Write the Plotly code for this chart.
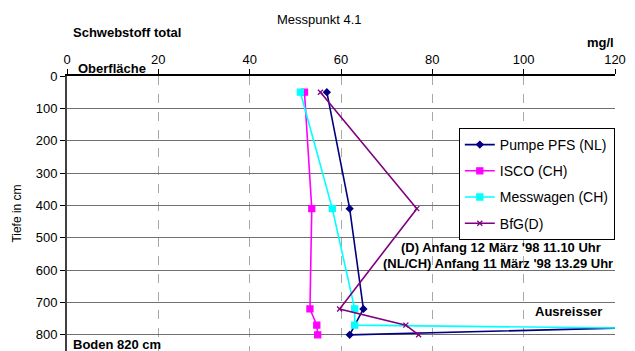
import plotly.graph_objects as go

# Data (mg/l vs depth in cm)
depth_pfs = [50, 410, 720, 800, 779]
val_pfs = [56.9, 61.9, 64.9, 61.9, 121]
depth_isco = [50, 410, 720, 770, 800]
val_isco = [52.0, 53.6, 53.2, 54.7, 54.9]
depth_mw = [50, 410, 720, 770, 779]
val_mw = [51.1, 58.1, 63.0, 63.0, 121]
depth_bfg = [50, 410, 720, 770, 800]
val_bfg = [55.5, 76.6, 59.7, 74.2, 77.0]

x_ticks = [0, 20, 40, 60, 80, 100, 120]
y_ticks = [0, 100, 200, 300, 400, 500, 600, 700, 800]

FONT = "Liberation Sans, Arial, sans-serif"

fig = go.Figure()
series = [
    ("Pumpe PFS (NL)", val_pfs, depth_pfs, "#000080", "diamond", 5),
    ("ISCO (CH)", val_isco, depth_isco, "#FF00FF", "square", 6),
    ("Messwagen (CH)", val_mw, depth_mw, "#00FFFF", "square", 6),
    ("BfG(D)", val_bfg, depth_bfg, "#800080", "x-thin-open", 5),
]
for i, (name, xs, ys, col, sym, sz) in enumerate(series):
    fig.add_trace(go.Scatter(
        x=xs, y=ys, name=name, mode="lines+markers",
        line=dict(color=col, width=1.6),
        marker=dict(color=col, symbol=sym, size=sz, line=dict(color=col, width=1.3)),
        legendgroup=str(i), cliponaxis=True,
    ))

fig.update_layout(
    width=635, height=351,
    margin=dict(l=67, r=20, t=76, b=0),
    paper_bgcolor="white", plot_bgcolor="white",
    font=dict(family=FONT, size=13, color="black"),
    showlegend=True,
    legend=dict(
        x=0.715, y=0.811, xanchor="left", yanchor="top",
        bgcolor="white", bordercolor="black", borderwidth=1,
        font=dict(size=14), tracegroupgap=5, traceorder="grouped",
        itemwidth=30,
    ),
    xaxis=dict(
        side="top", range=[0, 120], tickvals=x_ticks,
        showgrid=True, gridcolor="#a8a8a8", griddash="dash", gridwidth=1,
        showline=True, linecolor="black", linewidth=1.5,
        ticks="outside", ticklen=5, tickcolor="black",
        zeroline=False, tickfont=dict(size=13),
    ),
    yaxis=dict(
        range=[850, 0], tickvals=y_ticks,
        showgrid=True, gridcolor="#707070", gridwidth=1.2,
        showline=True, linecolor="#404040", linewidth=2,
        ticks="outside", ticklen=5, tickcolor="black",
        zeroline=False, tickfont=dict(size=13),
        title=dict(text="Tiefe in cm", font=dict(size=12), standoff=11),
    ),
)

def ann(text, x, y, xanchor="left", bold=True, size=13):
    fig.add_annotation(
        text=f"<b>{text}</b>" if bold else text,
        xref="paper", yref="paper", x=x, y=y,
        xanchor=xanchor, yanchor="middle", showarrow=False,
        font=dict(size=size, family=FONT, color="black"), borderpad=0,
    )

ann("Messpunkt 4.1", 0.46, 1.204, xanchor="center", bold=False)
ann("Schwebstoff total", 0.009, 1.16)
ann("mg/l", 1.0, 1.12, xanchor="right")
ann("Oberfläche", 0.018, 1.029)
ann("Boden 820 cm", 0.009, 0.022)
ann("Ausreisser", 0.978, 0.142, xanchor="right")
ann("(D) Anfang 12 März '98 11.10 Uhr", 0.976, 0.378, xanchor="right")
ann("(NL/CH) Anfang 11 März '98 13.29 Uhr", 0.998, 0.32, xanchor="right")

fig.write_html("out.html")
